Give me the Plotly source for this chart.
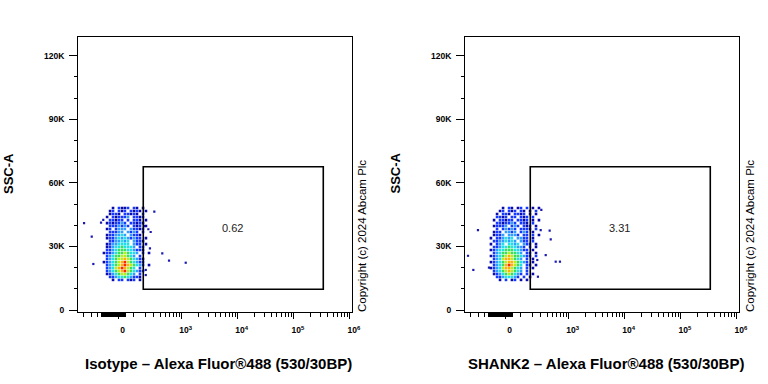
import numpy as np
import plotly.graph_objects as go

# ---------------- data ----------------
# fluorescence bin centres (raw Alexa Fluor 488 units) and SSC bin centres (K)
FL_BINS = [-117, -95, -73, -53, -34, -15, 3, 22, 40, 60, 80, 102, 125, 150, 178, 207, 241, 277]
SSC_BINS_K = [48.1, 46.7, 45.3, 43.9, 42.4, 41.0, 39.6, 38.2, 36.8, 35.4, 33.9, 32.5, 31.1,
              29.7, 28.3, 26.9, 25.5, 24.1, 22.6, 21.2, 19.8, 18.4, 17.0, 15.6, 14.2]

# density level per cell (blank = no events, 1 = sparse ... 8 = densest)
ISO_DENSITY = [
    "    1 2112 21 1   ",
    "   12 212 2121 1  ",
    "   1221 22121 2   ",
    "  1 212223 2212   ",
    "   22122 2 221 1  ",
    "  1212232 22121   ",
    "   2223232 212 1  ",
    "  12 2333 32212   ",
    "   22233 3232 2   ",
    "  1223343 3221    ",
    "  122343432322 1  ",
    "   2233434 3221   ",
    "  12334444 322 1  ",
    "  1234454443 22   ",
    "  2234555443221   ",
    " 122345565443 2 1 ",
    "  2345566543 2    ",
    "  2345667654321   ",
    " 12345678654322   ",
    "  2345678765432 1 ",
    "  2346787654 2    ",
    "  2345678654322   ",
    "  1234566543 2    ",
    "   22344543221    ",
    "    1 22 212 1    ",
]
SHANK2_DENSITY = [
    "     1 21 12 2 1 1",
    "    12 212 21 1 2 ",
    "   1 221 2212 1 1 ",
    "   2212 22 212 2  ",
    "  1 22122 2212 1 1",
    "   2212232 221 2  ",
    "  12223 232 212 1 ",
    "   2 23232 2221 2 ",
    "  122 3323 232 1  ",
    "  1223 3332 22 2 1",
    " 1 223434 3322 1  ",
    "  22334343 322 2  ",
    " 1 234 4434 322 1 ",
    "  22344544332 2 1 ",
    " 1234455544322 1  ",
    "  2345565543 22 1 ",
    " 12345676554322 2 ",
    "  2346776543 2 1  ",
    " 1234567765432 1  ",
    "  2345787654 22 1 ",
    " 12346776543 2 1  ",
    "  2345676543 2    ",
    "  1234565432 2 1  ",
    "   22344432 2 1   ",
    "    1 2 12 1 1    ",
]

# isolated events outside the main cloud
ISO_OUT_FL = [-290, -200, -184, -117, -100, 309, 233, 261, 440, 587, 1178, 205, 205, 252, 188]
ISO_OUT_SSC_K = [41.0, 34.6, 21.7, 41.2, 42.5, 46.4, 38.1, 36.8, 26.7, 23.3, 22.3, 18.9, 16.5, 29.1, 39.6]
SHANK2_OUT_FL = [-333, -261, -208, -110, 447, 468, 579, 693, 309, 300, 376, 264, 256]
SHANK2_OUT_SSC_K = [25.6, 18.9, 37.7, 20.0, 37.4, 33.3, 22.8, 22.8, 47.2, 37.7, 25.9, 15.7, 23.6]

GATE_FL = [180, 335000]
GATE_SSC_K = [9.8, 67.6]
GATE_PCT = ["0.62", "3.31"]

X_TITLES = ["Isotype \u2013 Alexa Fluor\u00ae488 (530/30BP)",
            "SHANK2 \u2013 Alexa Fluor\u00ae488 (530/30BP)"]
Y_TITLE = "SSC-A"
COPYRIGHT = "Copyright (c) 2024 Abcam Plc"
Y_TICKS_K = [0, 30, 60, 90, 120]
Y_TICK_TEXT = ["0", "30K", "60K", "90K", "120K"]
X_MAJOR = [0, 1e3, 1e4, 1e5, 1e6]
X_MAJOR_TEXT = ["0", "10<sup>3</sup>", "10<sup>4</sup>", "10<sup>5</sup>", "10<sup>6</sup>"]

# ---------------- styling ----------------
LEVEL_COLORS = {1: "#0a0aa8", 2: "#1538ff", 3: "#2f9cff", 4: "#1fe0e6",
                5: "#36e05a", 6: "#b4ee1e", 7: "#ffb000", 8: "#ff2400"}
FONT = "Liberation Sans, Arial, sans-serif"
NCOLS = len(FL_BINS)


def biex(v):
    return np.arcsinh(np.asarray(v, dtype=float) / 150.0) / np.log(10)


x_minor_raw = ([-300, -200, -150] + [v for v in range(-115, 50, 5) if v != 0]
               + list(range(100, 1000, 100)) + [m * 10 ** e for e in (3, 4, 5) for m in range(2, 10)])

fig = go.Figure()

panels = [
    dict(density=ISO_DENSITY, ofl=ISO_OUT_FL, ossc=ISO_OUT_SSC_K, xa="x", ya="y"),
    dict(density=SHANK2_DENSITY, ofl=SHANK2_OUT_FL, ossc=SHANK2_OUT_SSC_K, xa="x2", ya="y2"),
]

for p in panels:
    pts = {lvl: ([], []) for lvl in LEVEL_COLORS}
    for r, row in enumerate(p["density"]):
        for c, ch in enumerate(row.ljust(NCOLS)[:NCOLS]):
            if ch.strip():
                lvl = int(ch)
                pts[lvl][0].append(FL_BINS[c])
                pts[lvl][1].append(SSC_BINS_K[r] * 1000)
    fig.add_trace(go.Scatter(x=biex(p["ofl"]), y=np.asarray(p["ossc"]) * 1000, mode="markers",
                             marker=dict(symbol="square", size=2.2, color="#1a1ab0", line=dict(width=0)),
                             xaxis=p["xa"], yaxis=p["ya"], showlegend=False, hoverinfo="skip"))
    for lvl in sorted(pts):
        xs, ys = pts[lvl]
        if not xs:
            continue
        fig.add_trace(go.Scatter(x=biex(xs), y=ys, mode="markers",
                                 marker=dict(symbol="square", size=2.6, color=LEVEL_COLORS[lvl],
                                             line=dict(width=0)),
                                 xaxis=p["xa"], yaxis=p["ya"], showlegend=False, hoverinfo="skip"))

x_domains = [[78 / 768, 352 / 768], [465 / 768, 739 / 768]]
y_domain = [1 - 312 / 384, 1 - 37.3 / 384]

xaxis_common = dict(
    range=[-0.722, 4.162], showgrid=False, zeroline=False,
    showline=True, mirror=True, linecolor="black", linewidth=1,
    tickmode="array", tickvals=list(biex(X_MAJOR)), ticktext=X_MAJOR_TEXT,
    ticks="outside", ticklen=6, tickwidth=1, tickcolor="black",
    tickfont=dict(family=FONT, size=8.5, color="black", weight="bold"),
    ticklabelshift=4, ticklabelstandoff=4,
    minor=dict(tickmode="array", tickvals=list(biex(x_minor_raw)), ticks="outside",
               ticklen=3.5, tickwidth=1, tickcolor="black", showgrid=False),
)
yaxis_common = dict(
    range=[-940, 128640], domain=y_domain, showgrid=False, zeroline=False,
    showline=True, mirror=True, linecolor="black", linewidth=1,
    tickmode="array", tickvals=[v * 1000 for v in Y_TICKS_K], ticktext=Y_TICK_TEXT,
    ticks="outside", ticklen=8, tickwidth=1, tickcolor="black",
    tickfont=dict(family=FONT, size=8.5, color="black", weight="bold"),
    ticklabelstandoff=3,
    minor=dict(tickmode="linear", tick0=0, dtick=10000, ticks="outside",
               ticklen=3, tickwidth=1, tickcolor="black", showgrid=False),
)

fig.update_layout(
    width=768, height=384, margin=dict(l=0, r=0, t=0, b=0, autoexpand=False),
    paper_bgcolor="white", plot_bgcolor="white", showlegend=False,
    xaxis=dict(domain=x_domains[0], anchor="y", **xaxis_common),
    yaxis=dict(anchor="x", **yaxis_common),
    xaxis2=dict(domain=x_domains[1], anchor="y2", **xaxis_common),
    yaxis2=dict(anchor="x2", **yaxis_common),
)

gate_x = list(biex(GATE_FL))
label_x = (gate_x[0] + gate_x[1]) / 2 - 0.02
for i, (xr, yr) in enumerate([("x", "y"), ("x2", "y2")]):
    fig.add_shape(type="rect", xref=xr, yref=yr,
                  x0=gate_x[0], x1=gate_x[1], y0=GATE_SSC_K[0] * 1000, y1=GATE_SSC_K[1] * 1000,
                  line=dict(color="black", width=1.6), fillcolor="rgba(0,0,0,0)")
    fig.add_annotation(xref=xr, yref=yr, x=label_x, y=38500, text=GATE_PCT[i], showarrow=False,
                       xanchor="center", yanchor="middle",
                       font=dict(family=FONT, size=11, color="#222222"))

paper_positions = [dict(ytitle=8.5, xtitle=218, copy=361.5), dict(ytitle=395, xtitle=606, copy=749.5)]
for i, pp in enumerate(paper_positions):
    fig.add_annotation(xref="paper", yref="paper", x=pp["ytitle"] / 768, y=1 - 173.5 / 384,
                       text=Y_TITLE, textangle=-90, showarrow=False,
                       xanchor="center", yanchor="middle",
                       font=dict(family=FONT, size=13, color="black", weight="bold"))
    fig.add_annotation(xref="paper", yref="paper", x=pp["xtitle"] / 768, y=1 - 363 / 384,
                       text=X_TITLES[i], showarrow=False,
                       xanchor="center", yanchor="middle",
                       font=dict(family=FONT, size=15, color="black", weight="bold"))
    fig.add_annotation(xref="paper", yref="paper", x=pp["copy"] / 768, y=1 - 236.5 / 384,
                       text=COPYRIGHT, textangle=-90, showarrow=False,
                       xanchor="center", yanchor="middle",
                       font=dict(family=FONT, size=11.5, color="black"))

fig.write_html("out.html", config={"displayModeBar": False},
               post_script="document.body.style.margin='0px';")
